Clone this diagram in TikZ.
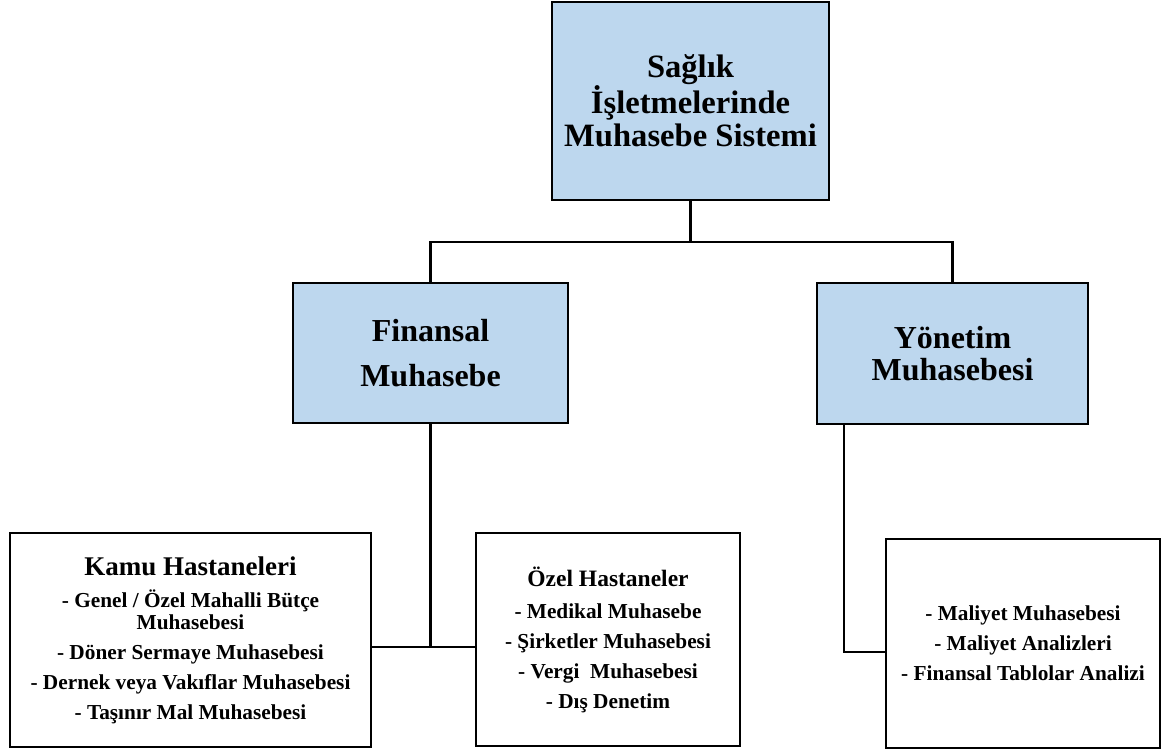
\documentclass[tikz,border=0pt]{standalone}
\usepackage{fontspec}
\setmainfont{Liberation Serif}
\definecolor{boxblue}{RGB}{189,215,238}
\begin{document}
\begin{tikzpicture}[x=1pt,y=-1pt,
  mainbox/.style={draw,line width=2.8pt,fill=boxblue,align=center,inner sep=0pt},
  listbox/.style={draw,line width=2.8pt,fill=white,align=center,inner sep=0pt,font=\bfseries\fontsize{21.3}{22}\selectfont},
  link/.style={draw,line width=2.8pt}]
\useasboundingbox (0,0) rectangle (1164,749);

\node[mainbox,minimum width=277pt,minimum height=198pt,font=\bfseries\fontsize{32.6}{33}\selectfont] (saglik) at (690.5,101) {Sağlık\\İşletmelerinde\\Muhasebe Sistemi};
\node[mainbox,minimum width=275pt,minimum height=140pt,font=\bfseries\fontsize{32}{45}\selectfont] (fin) at (430.5,353) {Finansal\\Muhasebe};
\node[mainbox,minimum width=271pt,minimum height=141pt,font=\bfseries\fontsize{32}{32}\selectfont] (yon) at (952.5,353.5) {Yönetim\\Muhasebesi};

\node[listbox,minimum width=361pt,minimum height=214pt] (kamu) at (190.5,640) {{\fontsize{27}{28}\selectfont Kamu Hastaneleri}\\[10pt]- Genel / Özel Mahalli Bütçe\\Muhasebesi\\[8pt]- Döner Sermaye Muhasebesi\\[8pt]- Dernek veya Vakıflar Muhasebesi\\[8pt]- Taşınır Mal Muhasebesi};
\node[listbox,minimum width=264pt,minimum height=213pt] (ozel) at (608,639.5) {{\fontsize{23.5}{24}\selectfont Özel Hastaneler}\\[10pt]- Medikal Muhasebe\\[8pt]- Şirketler Muhasebesi\\[8pt]- Vergi~ Muhasebesi\\[8pt]- Dış Denetim};
\node[listbox,minimum width=274pt,minimum height=209pt] (mal) at (1023,643.5) {- Maliyet Muhasebesi\\[8pt]- Maliyet Analizleri\\[8pt]- Finansal Tablolar Analizi};

\coordinate (bus) at (690.5,242);
\coordinate (fjoint) at (430.5,647);
\coordinate (yjoint) at (844,652);

\path[link] (saglik.south) -- (bus);
\path[link] (fin.north) |- (bus) -| (yon.north);
\path[link] (fin.south) -- (fjoint);
\path[link] (kamu.east |- fjoint) -- (ozel.west |- fjoint);
\path[link] (yon.south -| yjoint) |- (mal.west |- yjoint);
\end{tikzpicture}
\end{document}
